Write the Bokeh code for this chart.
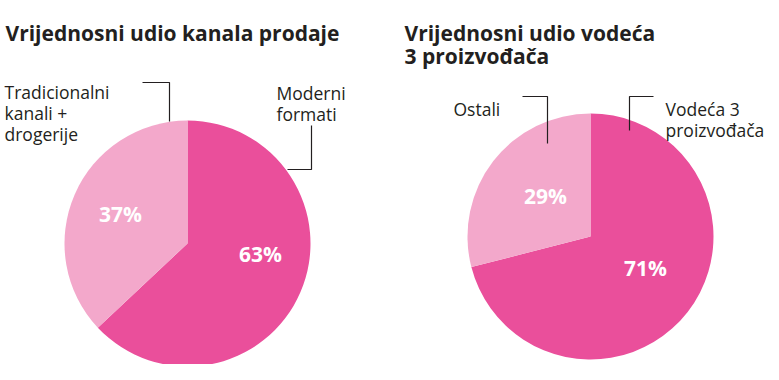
import math
from bokeh.plotting import figure
from bokeh.models import Range1d, ColumnDataSource
from bokeh.core.properties import value
from bokeh.embed import file_html
from bokeh.resources import INLINE

# ---- data ----
titles_1 = ["Vrijednosni udio kanala prodaje"]
titles_2 = ["Vrijednosni udio vodeća", "3 proizvođača"]
cats_1 = ["Moderni formati", "Tradicionalni kanali + drogerije"]
vals_1 = [63, 37]
cats_2 = ["Vodeća 3 proizvođača", "Ostali"]
vals_2 = [71, 29]
pct_labels_1 = ["63%", "37%"]
pct_labels_2 = ["71%", "29%"]
colors = ["#ea4f9b", "#f3a8cb"]

W, H = 771, 364
p = figure(width=W, height=H, output_backend="svg", toolbar_location=None,
           x_range=Range1d(0, W), y_range=Range1d(-H, 0),
           min_border=0, outline_line_color=None)
p.axis.visible = False
p.grid.visible = False
p.background_fill_color = "white"
p.border_fill_color = "white"

FONT = value("Open Sans")
R = 123

def pie(cx, cy, vals, pct_labels, offsets):
    total = float(sum(vals))
    start = math.pi / 2
    a0 = vals[0] / total * 2 * math.pi
    starts = [start - a0, start]
    ends = [start, start + (2 * math.pi - a0)]
    src = ColumnDataSource(dict(x=[cx] * len(vals), y=[-cy] * len(vals),
                                s=starts, e=ends, c=colors[:len(vals)]))
    p.wedge(x="x", y="y", radius=R, start_angle="s", end_angle="e",
            fill_color="c", line_color=None, source=src)
    lsrc = ColumnDataSource(dict(x=[cx + o[0] for o in offsets],
                                 y=[-(cy + o[1]) for o in offsets],
                                 t=pct_labels))
    p.text(x="x", y="y", text="t", source=lsrc, text_color="white",
           text_font=FONT, text_font_style="bold",
           text_font_size="21px", text_align="center", text_baseline="middle")

pie(187, 243, vals_1, pct_labels_1, [(73, 10), (-67, -30)])
pie(590, 236, vals_2, pct_labels_2, [(55, 31), (-45, -41)])

def txt(x, y, t, size, bold=False, color="#231f20"):
    p.text(x=[x], y=[-y], text=[t], text_font=FONT,
           text_font_style="bold" if bold else "normal",
           text_font_size=size, text_color=color,
           text_align="left", text_baseline="alphabetic")

# titles
txt(5, 32, titles_1[0], "21px", bold=True)
txt(404, 32, titles_2[0], "21px", bold=True)
txt(404, 55, titles_2[1], "21px", bold=True)

# category labels
for i, ln in enumerate(["Tradicionalni", "kanali +", "drogerije"]):
    txt(4, 91 + 21 * i, ln, "17.5px")
for i, ln in enumerate(["Moderni", "formati"]):
    txt(276, 92 + 21 * i, ln, "17.5px")
txt(453, 108, "Ostali", "17.5px")
for i, ln in enumerate(["Vodeća 3", "proizvođača"]):
    txt(665, 108 + 21 * i, ln, "17.5px")

# leader lines
xs = [[142, 169, 169], [311, 311, 287], [522, 547, 547], [653, 629, 629]]
ys = [[82, 82, 121], [125, 169, 169], [96, 96, 143], [96, 96, 130]]
p.multi_line(xs=xs, ys=[[-v for v in y] for y in ys], line_color="#231f20", line_width=1.2)

open("out.html", "w").write(file_html(p, INLINE))
